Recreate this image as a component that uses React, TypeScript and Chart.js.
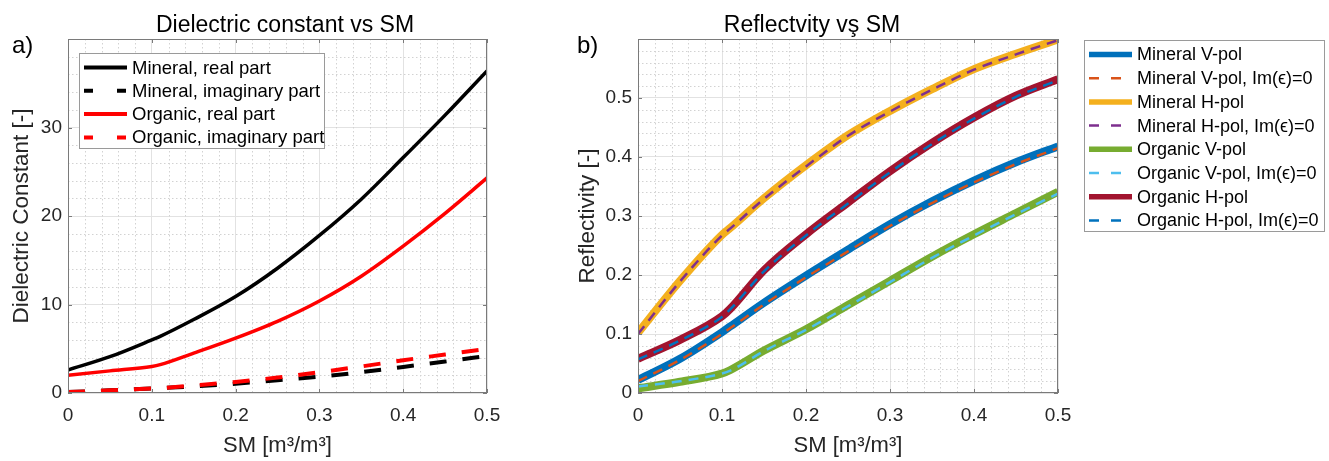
import React, { useEffect, useRef } from 'react';
import { Chart, registerables } from 'chart.js';

Chart.register(...registerables);

const FONT = "'Liberation Sans', Arial, Helvetica, sans-serif";

// ---------- data ----------
const SM = [0, 0.05, 0.1, 0.11, 0.15, 0.2, 0.25, 0.3, 0.35, 0.4, 0.45, 0.5];

// panel a) dielectric constant
const mineralReal = [2.6, 4.1, 6.0, 6.4, 8.3, 10.9, 14.1, 17.8, 21.9, 26.6, 31.4, 36.4];
const mineralImag = [0.1, 0.3, 0.5, 0.55, 0.75, 1.05, 1.45, 1.85, 2.35, 2.95, 3.55, 4.2];
const organicReal = [2.0, 2.5, 3.0, 3.2, 4.5, 6.2, 8.1, 10.4, 13.2, 16.6, 20.3, 24.3];
const organicImag = [0.1, 0.3, 0.5, 0.55, 0.85, 1.25, 1.75, 2.35, 3.0, 3.7, 4.35, 5.0];

// panel b) reflectivity
const mineralV = [0.022, 0.058, 0.103, 0.113, 0.153, 0.199, 0.243, 0.286, 0.325, 0.36, 0.391, 0.418];
const mineralVIm0 = [0.02, 0.056, 0.1, 0.11, 0.15, 0.196, 0.24, 0.283, 0.322, 0.357, 0.388, 0.415];
const mineralH = [0.102, 0.19, 0.268, 0.28, 0.33, 0.386, 0.437, 0.478, 0.515, 0.549, 0.575, 0.599];
const mineralHIm0 = [0.1, 0.189, 0.267, 0.279, 0.329, 0.384, 0.436, 0.477, 0.514, 0.548, 0.574, 0.598];
const organicV = [0.008, 0.019, 0.033, 0.039, 0.072, 0.108, 0.149, 0.19, 0.231, 0.269, 0.305, 0.341];
const organicVIm0 = [0.011, 0.02, 0.033, 0.038, 0.071, 0.107, 0.147, 0.188, 0.229, 0.267, 0.303, 0.338];
const organicH = [0.058, 0.09, 0.13, 0.143, 0.208, 0.269, 0.323, 0.376, 0.424, 0.467, 0.504, 0.532];
const organicHIm0 = [0.057, 0.089, 0.129, 0.142, 0.206, 0.267, 0.321, 0.374, 0.422, 0.465, 0.502, 0.53];

const xTicks = [0, 0.1, 0.2, 0.3, 0.4, 0.5];
const leftYTicks = [0, 10, 20, 30];
const rightYTicks = [0, 0.1, 0.2, 0.3, 0.4, 0.5];

const pts = (ys: number[]) => SM.map((x, i) => ({ x, y: ys[i] }));

type Legend = {
  x: number; y: number; w: number; h: number;
  row0: number; rowStep: number; sx: number; sw: number; tx: number;
  solidW: number; dashW: number; dash: number[]; fontSize: number;
};
type Decor = {
  title: string; titleX: number; titleY: number;
  panel: string; panelX: number; panelY: number;
  minorX: number; minorY: number; majorX: number; majorY: number;
  legend: Legend;
};

function isMajor(v: number, step: number) {
  const r = v / step;
  return Math.abs(r - Math.round(r)) < 1e-6;
}

function decorPlugin(d: Decor) {
  return {
    id: 'decor',
    beforeDatasetsDraw(chart: any) {
      const { ctx, chartArea: a } = chart;
      const xs = chart.scales.x;
      const ys = chart.scales.y;
      ctx.save();
      ctx.strokeStyle = '#d2d2d2';
      ctx.lineWidth = 1;
      ctx.setLineDash([1.5, 2.5]);
      ctx.beginPath();
      for (let i = 0; ; i++) {
        const v = xs.min + i * d.minorX;
        if (v > xs.max + 1e-9) break;
        if (isMajor(v, d.majorX)) continue;
        const px = Math.round(xs.getPixelForValue(v)) + 0.5;
        ctx.moveTo(px, a.top);
        ctx.lineTo(px, a.bottom);
      }
      for (let i = 0; ; i++) {
        const v = ys.min + i * d.minorY;
        if (v > ys.max + 1e-9) break;
        if (isMajor(v, d.majorY)) continue;
        const py = Math.round(ys.getPixelForValue(v)) + 0.5;
        ctx.moveTo(a.left, py);
        ctx.lineTo(a.right, py);
      }
      ctx.stroke();
      ctx.restore();
    },
    afterDatasetsDraw(chart: any) {
      const { ctx, chartArea: a } = chart;
      const xs = chart.scales.x;
      const ys = chart.scales.y;
      ctx.save();
      ctx.setLineDash([]);
      ctx.strokeStyle = '#7a7a7a';
      ctx.lineWidth = 1;
      ctx.strokeRect(a.left + 0.5, a.top + 0.5, a.right - a.left - 1, a.bottom - a.top - 1);
      ctx.beginPath();
      xs.ticks.forEach((t: any) => {
        const px = Math.round(xs.getPixelForValue(t.value)) + 0.5;
        ctx.moveTo(px, a.bottom);
        ctx.lineTo(px, a.bottom - 4);
        ctx.moveTo(px, a.top);
        ctx.lineTo(px, a.top + 4);
      });
      ys.ticks.forEach((t: any) => {
        const py = Math.round(ys.getPixelForValue(t.value)) + 0.5;
        ctx.moveTo(a.left, py);
        ctx.lineTo(a.left + 4, py);
        ctx.moveTo(a.right, py);
        ctx.lineTo(a.right - 4, py);
      });
      ctx.stroke();
      ctx.restore();
    },
    afterDraw(chart: any) {
      const { ctx } = chart;
      ctx.save();
      ctx.fillStyle = '#000';
      ctx.textBaseline = 'alphabetic';
      ctx.textAlign = 'center';
      ctx.font = `23px ${FONT}`;
      ctx.fillText(d.title, d.titleX, d.titleY);
      ctx.textAlign = 'left';
      ctx.font = `24px ${FONT}`;
      ctx.fillText(d.panel, d.panelX, d.panelY);

      const L = d.legend;
      ctx.fillStyle = '#fff';
      ctx.fillRect(L.x, L.y, L.w, L.h);
      ctx.strokeStyle = '#9a9a9a';
      ctx.lineWidth = 1;
      ctx.strokeRect(L.x + 0.5, L.y + 0.5, L.w - 1, L.h - 1);
      chart.data.datasets.forEach((ds: any, i: number) => {
        const yy = L.row0 + i * L.rowStep;
        const dashed = ds.borderDash && ds.borderDash.length > 0;
        ctx.beginPath();
        ctx.setLineDash(dashed ? L.dash : []);
        ctx.lineDashOffset = 0;
        ctx.lineCap = 'butt';
        ctx.lineWidth = dashed ? L.dashW : L.solidW;
        ctx.strokeStyle = ds.borderColor;
        ctx.moveTo(L.sx, yy);
        ctx.lineTo(L.sx + L.sw, yy);
        ctx.stroke();
        ctx.setLineDash([]);
        ctx.fillStyle = '#000';
        ctx.font = `${L.fontSize}px ${FONT}`;
        ctx.textBaseline = 'middle';
        ctx.textAlign = 'left';
        ctx.fillText(ds.label, L.tx, yy + 1);
      });
      ctx.restore();
    },
  };
}

const fmt = (v: number) => (Math.abs(v) < 1e-9 ? '0' : String(Number(v.toFixed(2))));

function axisX(height: number) {
  return {
    type: 'linear',
    min: 0,
    max: 0.5,
    afterFit: (s: any) => { s.height = height; },
    afterBuildTicks: (s: any) => { s.ticks = xTicks.map((value) => ({ value })); },
    ticks: {
      autoSkip: false,
      maxRotation: 0,
      padding: 11,
      color: '#262626',
      font: { family: FONT, size: 19 },
      callback: (v: any) => fmt(Number(v)),
    },
    grid: { color: '#e2e2e2', lineWidth: 1, drawTicks: false },
    border: { display: false },
    title: {
      display: true,
      text: 'SM [m³/m³]',
      color: '#262626',
      font: { family: FONT, size: 22 },
      padding: { top: 0, bottom: 1.5 },
    },
  };
}

function axisY(width: number, max: number, ticks: number[], label: string, titlePad: number) {
  return {
    type: 'linear',
    min: 0,
    max,
    afterFit: (s: any) => { s.width = width; },
    afterBuildTicks: (s: any) => { s.ticks = ticks.map((value) => ({ value })); },
    ticks: {
      autoSkip: false,
      padding: 6,
      color: '#262626',
      font: { family: FONT, size: 19 },
      callback: (v: any) => fmt(Number(v)),
    },
    grid: { color: '#e2e2e2', lineWidth: 1, drawTicks: false },
    border: { display: false },
    title: {
      display: true,
      text: label,
      color: '#262626',
      font: { family: FONT, size: 22.5 },
      padding: { top: titlePad, bottom: 0 },
    },
  };
}

function leftConfig(): any {
  const dash = [17, 16];
  const datasets = [
    { label: 'Mineral, real part', data: pts(mineralReal), borderColor: '#000000', borderWidth: 3.5, borderDash: [] },
    { label: 'Mineral, imaginary part', data: pts(mineralImag), borderColor: '#000000', borderWidth: 4, borderDash: dash },
    { label: 'Organic, real part', data: pts(organicReal), borderColor: '#ff0000', borderWidth: 3.5, borderDash: [] },
    { label: 'Organic, imaginary part', data: pts(organicImag), borderColor: '#ff0000', borderWidth: 4, borderDash: dash },
  ].map((d, i) => ({ ...d, order: -i, pointRadius: 0, fill: false, cubicInterpolationMode: 'monotone', borderCapStyle: 'butt' }));
  return {
    type: 'line',
    data: { datasets },
    options: {
      responsive: false,
      maintainAspectRatio: false,
      animation: false,
      devicePixelRatio: 1,
      layout: { padding: { left: 0, top: 39, right: 58, bottom: 0 } },
      plugins: { legend: { display: false }, title: { display: false }, tooltip: { enabled: false } },
      scales: {
        x: axisX(68),
        y: axisY(68, 40, leftYTicks, 'Dielectric Constant [-]', 8),
      },
    },
    plugins: [
      decorPlugin({
        title: 'Dielectric constant vs SM', titleX: 285, titleY: 32,
        panel: 'a)', panelX: 12, panelY: 53,
        minorX: 0.02, minorY: 2, majorX: 0.1, majorY: 10,
        legend: {
          x: 79, y: 53, w: 246, h: 96, row0: 67.5, rowStep: 23.3,
          sx: 84, sw: 43, tx: 132, solidW: 4, dashW: 4, dash: [9, 24], fontSize: 18.5,
        },
      }),
    ],
  };
}

function rightConfig(): any {
  const dash = [10, 7];
  const mk = (label: string, ys: number[], color: string, dashed: boolean) => ({
    label, data: pts(ys), borderColor: color,
    borderWidth: dashed ? 2.5 : 8, borderDash: dashed ? dash : [],
  });
  const datasets = [
    mk('Mineral V-pol', mineralV, '#0070bb', false),
    mk('Mineral V-pol, Im(ϵ)=0', mineralVIm0, '#d95319', true),
    mk('Mineral H-pol', mineralH, '#f4b01e', false),
    mk('Mineral H-pol, Im(ϵ)=0', mineralHIm0, '#7e2f8e', true),
    mk('Organic V-pol', organicV, '#77ac30', false),
    mk('Organic V-pol, Im(ϵ)=0', organicVIm0, '#4dbeee', true),
    mk('Organic H-pol', organicH, '#a2142f', false),
    mk('Organic H-pol, Im(ϵ)=0', organicHIm0, '#0072bd', true),
  ].map((d, i) => ({ ...d, order: -i, pointRadius: 0, fill: false, cubicInterpolationMode: 'monotone', borderCapStyle: 'butt' }));
  return {
    type: 'line',
    data: { datasets },
    options: {
      responsive: false,
      maintainAspectRatio: false,
      animation: false,
      devicePixelRatio: 1,
      layout: { padding: { left: 0, top: 39, right: 271, bottom: 0 } },
      plugins: { legend: { display: false }, title: { display: false }, tooltip: { enabled: false } },
      scales: {
        x: axisX(68),
        y: axisY(93, 0.6, rightYTicks, 'Reflectivity [-]', 29),
      },
    },
    plugins: [
      decorPlugin({
        title: 'Reflectvity vş SM', titleX: 267, titleY: 32,
        panel: 'b)', panelX: 32, panelY: 53,
        minorX: 0.02, minorY: 0.02, majorX: 0.1, majorY: 0.1,
        legend: {
          x: 539, y: 40, w: 241, h: 192, row0: 54.5, rowStep: 23.7,
          sx: 544, sw: 43, tx: 592, solidW: 5.5, dashW: 2.5, dash: [10, 12], fontSize: 18,
        },
      }),
    ],
  };
}

export default function App() {
  const leftRef = useRef<HTMLCanvasElement>(null);
  const rightRef = useRef<HTMLCanvasElement>(null);
  useEffect(() => {
    const c1 = new Chart(leftRef.current as HTMLCanvasElement, leftConfig());
    const c2 = new Chart(rightRef.current as HTMLCanvasElement, rightConfig());
    return () => {
      c1.destroy();
      c2.destroy();
    };
  }, []);
  return (
    <div style={{ position: 'fixed', left: 0, top: 0, width: 1329, height: 461, background: '#fff', overflow: 'hidden' }}>
      <canvas ref={leftRef} width={545} height={461} style={{ position: 'absolute', left: 0, top: 0, width: 545, height: 461 }} />
      <canvas ref={rightRef} width={784} height={461} style={{ position: 'absolute', left: 545, top: 0, width: 784, height: 461 }} />
    </div>
  );
}
